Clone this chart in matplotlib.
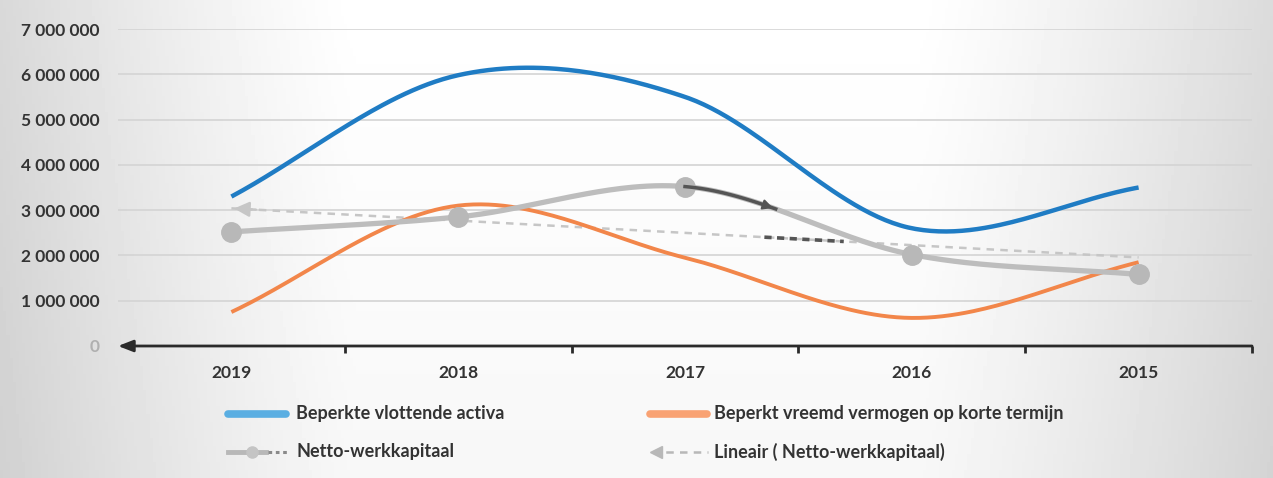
import numpy as np
import matplotlib
matplotlib.use("Agg")
import matplotlib.pyplot as plt
from matplotlib.lines import Line2D

# Data (in euro)
years = ["2019", "2018", "2017", "2016", "2015"]
vlottende_activa = [3300000, 5980000, 5500000, 2600000, 3500000]
vreemd_vermogen = [750000, 3100000, 1950000, 620000, 1850000]
netto_werkkapitaal = [2520000, 2850000, 3520000, 2020000, 1580000]
y_ticks = [0, 1000000, 2000000, 3000000, 4000000, 5000000, 6000000, 7000000]
y_tick_labels = ["0", "1 000 000", "2 000 000", "3 000 000", "4 000 000",
                 "5 000 000", "6 000 000", "7 000 000"]
legend_labels = ["Beperkte vlottende activa",
                 "Beperkt vreemd vermogen op korte termijn",
                 "Netto-werkkapitaal",
                 "Lineair ( Netto-werkkapitaal)"]

plt.rcParams["font.family"] = ["Lato", "DejaVu Sans"]
plt.rcParams["font.weight"] = "bold"

TEXT = "#333333"
BLUE = "#1f7cc4"
ORANGE = "#f2864a"
GREY = "#bdbdbd"


def smooth(values, n=60):
    """Catmull-Rom style smoothing through the points (like a smoothed line chart)."""
    y = np.asarray(values, dtype=float)
    x = np.arange(len(y), dtype=float)
    m = np.zeros_like(y)
    m[1:-1] = (y[2:] - y[:-2]) / 2.0
    m[0] = (y[1] - y[0])
    m[-1] = (y[-1] - y[-2])
    xs, ys = [], []
    for i in range(len(y) - 1):
        t = np.linspace(0, 1, n, endpoint=(i == len(y) - 2))
        h00 = 2 * t**3 - 3 * t**2 + 1
        h10 = t**3 - 2 * t**2 + t
        h01 = -2 * t**3 + 3 * t**2
        h11 = t**3 - t**2
        xs.append(x[i] + t)
        ys.append(h00 * y[i] + h10 * m[i] + h01 * y[i + 1] + h11 * m[i + 1])
    return np.concatenate(xs), np.concatenate(ys)


fig = plt.figure(figsize=(12.73, 4.78), dpi=100)

# Soft grey background that fades to white in the middle
bg = fig.add_axes([0, 0, 1, 1], zorder=-10)
gx = np.linspace(0, 1, 400)
left = np.clip(1 - gx / 0.28, 0, 1) ** 1.2
right = np.clip((gx - 0.72) / 0.28, 0, 1) ** 1.2
shade = 1 - 0.15 * left - 0.14 * right
img = np.tile(shade, (60, 1))
gy = np.linspace(0, 1, 60)[:, None]
img = img - 0.03 * gy
bg.imshow(img, cmap="gray", vmin=0, vmax=1, aspect="auto",
          extent=[0, 1, 0, 1])
bg.set_axis_off()

ax = fig.add_axes([118 / 1273, 1 - 346 / 478, 1134 / 1273, (346 - 29) / 478])
ax.set_facecolor("none")
x = np.arange(len(years))
ax.set_xlim(-0.5, len(years) - 0.5)
ax.set_ylim(0, 7000000)

# Horizontal gridlines
for v in y_ticks[1:]:
    ax.axhline(v, color="#d4d4d4", lw=1.2, zorder=0)

# Series
bx, by = smooth(vlottende_activa)
ax.plot(bx, by, color=BLUE, lw=3.2, solid_capstyle="butt", zorder=3)
ox, oy = smooth(vreemd_vermogen)
ax.plot(ox, oy, color=ORANGE, lw=2.8, solid_capstyle="butt", zorder=3)
nx, ny = smooth(netto_werkkapitaal)
ax.plot(nx, ny, color=GREY, lw=3.8, solid_capstyle="round", zorder=4)
ax.plot(x, netto_werkkapitaal, "o", color="#b8b8b8", ms=14, zorder=5)

# Linear trend of the working capital
coef = np.polyfit(x, netto_werkkapitaal, 1)
trend = np.polyval(coef, x)
ax.plot(x, trend, color="#c6c6c6", lw=1.8, ls=(0, (3, 2.5)), zorder=2)
ax.annotate("", xy=(x[0], trend[0]), xytext=(x[0] + 0.12, np.polyval(coef, x[0] + 0.12)),
            arrowprops=dict(arrowstyle="-|>,head_length=0.9,head_width=0.45",
                            color="#c6c6c6", lw=1.8), zorder=2)
tx = np.linspace(2.35, 2.7, 20)
ax.plot(tx, np.polyval(coef, tx), color="#555555", lw=2.6, ls=(0, (2, 1.5)), zorder=2)

# Dark arrow along the working-capital curve after 2017
sel = (nx >= 2.0) & (nx <= 2.4)
ax.plot(nx[sel], ny[sel], color="#555555", lw=2.5, zorder=6)
ax.annotate("", xy=(nx[sel][-1], ny[sel][-1]), xytext=(nx[sel][-4], ny[sel][-4]),
            arrowprops=dict(arrowstyle="-|>,head_length=0.6,head_width=0.3",
                            color="#555555", lw=1.5), zorder=6)

# Category axis with arrow at the left
for s in ["top", "right", "left", "bottom"]:
    ax.spines[s].set_visible(False)
ax.annotate("", xy=(-0.5, 0), xytext=(len(years) - 0.5, 0), xycoords="data",
            arrowprops=dict(arrowstyle="-|>,head_length=0.9,head_width=0.35",
                            color="#2a2a2a", lw=2.0, shrinkA=0, shrinkB=0),
            annotation_clip=False, zorder=7)
ax.set_xticks(np.arange(0.5, len(years) - 0.4, 1.0), minor=True)
ax.tick_params(axis="x", which="minor", length=5, width=2, color="#2a2a2a")
ax.set_xticks(x)
ax.set_xticklabels(years, fontsize=12.5, fontweight="bold", color=TEXT)
ax.tick_params(axis="x", which="major", length=0, pad=14)

ax.set_yticks(y_ticks)
ax.set_yticklabels(y_tick_labels, fontsize=12.5, fontweight="bold", color=TEXT)
ax.get_yticklabels()[0].set_color("#b0b0b0")
ax.tick_params(axis="y", length=0, pad=13)

# Legend drawn in figure coordinates
def fx(px):
    return px / 1273


def fy(py):
    return 1 - py / 478


fig.add_artist(Line2D([fx(228), fx(286)], [fy(414), fy(414)], color="#5aaee2",
                      lw=5.5, solid_capstyle="round"))
fig.add_artist(Line2D([fx(650), fx(707)], [fy(414), fy(414)], color="#f9a273",
                      lw=5.5, solid_capstyle="round"))
fig.add_artist(Line2D([fx(228), fx(266)], [fy(452), fy(452)], color="#b8b8b8",
                      lw=3.5))
fig.add_artist(Line2D([fx(252)], [fy(452)], color="#c4c4c4", marker="o", ms=8, lw=0))
fig.add_artist(Line2D([fx(268), fx(288)], [fy(452), fy(452)], color="#8a8a8a",
                      lw=2.2, ls=(0, (1.2, 1.2))))
fig.add_artist(Line2D([fx(652), fx(708)], [fy(452), fy(452)], color="#b8b8b8",
                      lw=1.8, ls=(0, (3, 2.5))))
fig.add_artist(Line2D([fx(656)], [fy(452)], color="#b8b8b8", marker="<", ms=9, lw=0))

for (px, py), label in zip([(296, 414), (714, 414), (296, 452), (714, 452)], legend_labels):
    fig.text(fx(px), fy(py), label, fontsize=13, fontweight="bold",
             color=TEXT, va="center", ha="left")

fig.savefig("out.png", dpi=100)
